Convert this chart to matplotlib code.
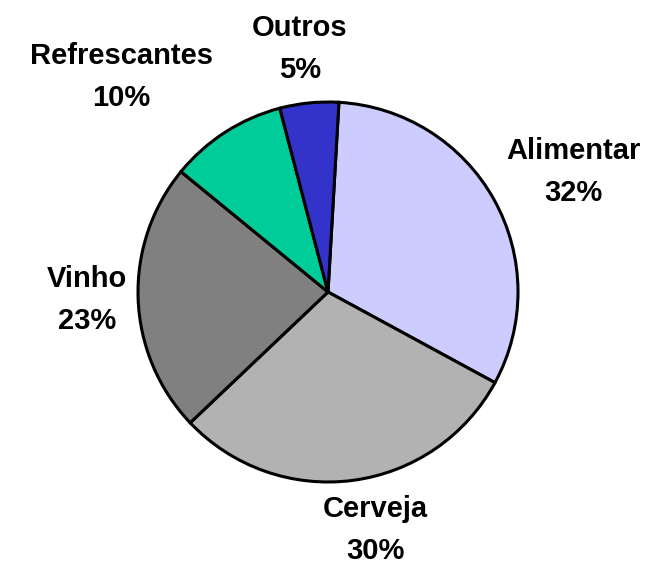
import matplotlib.pyplot as plt

categories = ['Alimentar', 'Cerveja', 'Vinho', 'Refrescantes', 'Outros']
shares = [32, 30, 23, 10, 5]
colors = ['#CCCCFF', '#B2B2B2', '#808080', '#00CC99', '#3333CC']

# label centres in pixel coords (x, y from top)
label_pos = [(573, 172), (375, 530), (87, 300), (121, 77), (300, 49)]

W, H = 647, 565
fig = plt.figure(figsize=(W / 100, H / 100), dpi=100)
ax = fig.add_axes([0, 0, 1, 1])

ax.pie(shares, colors=colors, startangle=86.7, counterclock=False,
       center=(328, H - 292), radius=190, frame=True,
       wedgeprops=dict(edgecolor='black', linewidth=2.2))

for name, val, (x, y) in zip(categories, shares, label_pos):
    ax.text(x, H - y, f'{name}\n{val}%', ha='center', va='center',
            fontsize=21, fontweight='bold', family='Liberation Sans',
            linespacing=1.68)

ax.set_xlim(0, W)
ax.set_ylim(0, H)
ax.set_aspect('equal')
ax.axis('off')

fig.savefig('out.png', dpi=100)
